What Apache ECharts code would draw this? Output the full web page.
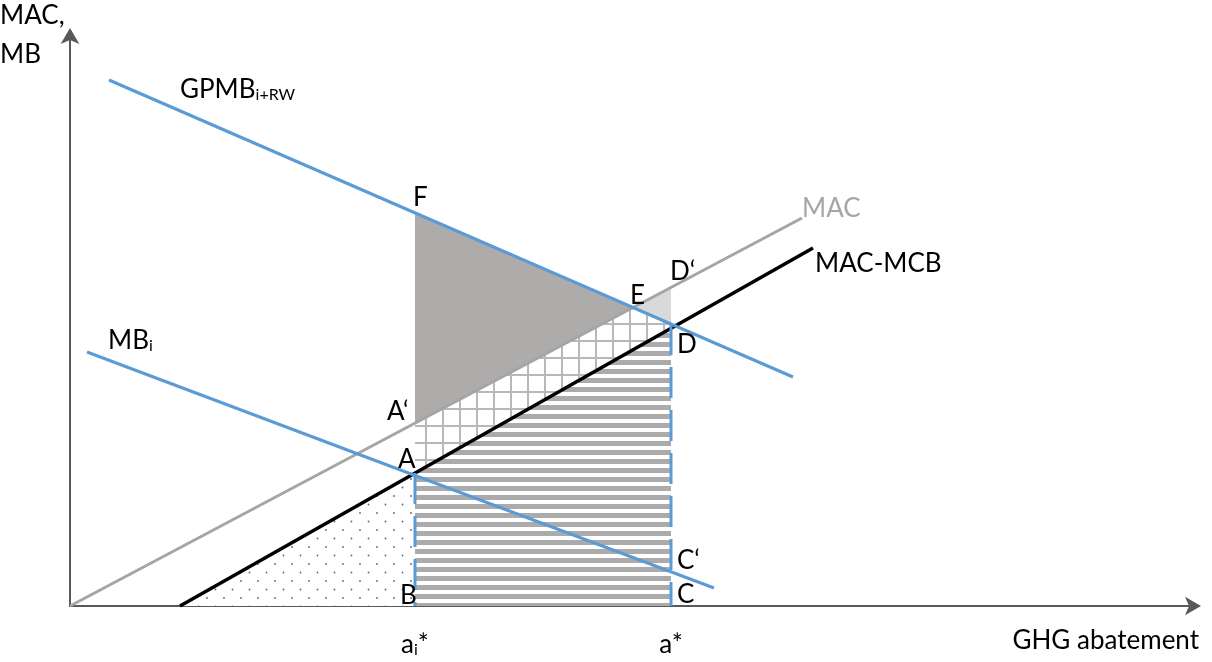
<!DOCTYPE html>
<html>
<head>
<meta charset="utf-8">
<script src="https://cdn.jsdelivr.net/npm/echarts@6/dist/echarts.min.js"></script>
<style>
html, body { margin: 0; padding: 0; background: #fff; }
#main { width: 1212px; height: 662px; }
</style>
</head>
<body>
<div id="main"></div>
<script>
// curve end points [x, y] in chart units
var gpmbLine = [[3.9, 52.6], [72.3, 22.9]];
var macLine = [[0, 0], [73.2, 38.8]];
var mcbLine = [[11.0, 0], [74.3, 35.8]];
var mbLine = [[1.7, 25.4], [64.4, 1.8]];
// abatement levels
var aiStar = 34.5;
var aStar = 60.1;
// point / curve labels: text, x, y
var labelText = ['F', 'E', 'D\u2018', 'D', 'A\u2018', 'A', 'C\u2018', 'B', 'C', 'MAC', 'MAC-MCB', '{m|GPMB}{s|i+RW}', '{m|MB}{s|i}'];
var labelX = [34.3, 56.0, 60.0, 60.7, 31.7, 32.8, 60.7, 33.0, 60.7, 73.2, 74.5, 11.0, 3.8];
var labelY = [40.8, 31.0, 33.4, 26.1, 19.4, 14.6, 4.5, 1.0, 1.1, 39.7, 34.2, 51.6, 26.5];
var tickText = ['{m|a}{s|i}{m|*}', '{m|a*}'];
var tickX = [aiStar, aStar];

var FONT = 'Lato, "Open Sans", sans-serif';
var FS = 26;
var BLUE = '#5B9BD5';

function yAt(l, x) {
    var s = (l[1][1] - l[0][1]) / (l[1][0] - l[0][0]);
    return l[0][1] + s * (x - l[0][0]);
}
function cross(l1, l2) {
    var s1 = (l1[1][1] - l1[0][1]) / (l1[1][0] - l1[0][0]);
    var s2 = (l2[1][1] - l2[0][1]) / (l2[1][0] - l2[0][0]);
    var b1 = l1[0][1] - s1 * l1[0][0];
    var b2 = l2[0][1] - s2 * l2[0][0];
    var x = (b2 - b1) / (s1 - s2);
    return [x, s1 * x + b1];
}
function makePattern(w, h, draw) {
    var c = document.createElement('canvas');
    c.width = w;
    c.height = h;
    var g = c.getContext('2d');
    draw(g);
    return {image: c, repeat: 'repeat'};
}

var stripes = makePattern(4, 9, function (g) {
    g.fillStyle = '#fff';
    g.fillRect(0, 0, 4, 9);
    g.fillStyle = '#ABABAB';
    g.fillRect(0, 0, 4, 5);
});
var hatch = makePattern(17, 17, function (g) {
    g.fillStyle = '#fff';
    g.fillRect(0, 0, 17, 17);
    g.fillStyle = '#B8B8B8';
    g.fillRect(0, 0, 2, 17);
    g.fillRect(0, 0, 17, 2);
});
var dots = makePattern(17, 17, function (g) {
    g.fillStyle = '#fff';
    g.fillRect(0, 0, 17, 17);
    g.fillStyle = '#666';
    g.beginPath();
    g.arc(3, 3, 0.9, 0, Math.PI * 2);
    g.arc(11.5, 11.5, 0.9, 0, Math.PI * 2);
    g.fill();
});

var E = cross(gpmbLine, macLine);
var regions = [
    {fill: '#AEABAB', pts: [[aiStar, yAt(gpmbLine, aiStar)], E, [aiStar, yAt(macLine, aiStar)]]},
    {fill: '#D9D9D9', pts: [E, [aStar, yAt(macLine, aStar)], [aStar, yAt(gpmbLine, aStar)]]},
    {fill: hatch, pts: [[aiStar, yAt(macLine, aiStar)], E, [aStar, yAt(gpmbLine, aStar)], [aStar, yAt(mcbLine, aStar)], [aiStar, yAt(mcbLine, aiStar)]]},
    {fill: stripes, pts: [[aiStar, yAt(mcbLine, aiStar)], [aStar, yAt(mcbLine, aStar)], [aStar, 0], [aiStar, 0]]},
    {fill: dots, pts: [[mcbLine[0][0], 0], [aiStar, yAt(mcbLine, aiStar)], [aiStar, 0]]}
];

var rich = {
    m: {fontSize: FS, fontFamily: FONT, color: '#000'},
    s: {fontSize: 16, fontFamily: FONT, color: '#000', lineHeight: 12, verticalAlign: 'bottom'}
};

function lineSeries(data, color, width, dash) {
    return {
        type: 'line', data: data, symbol: 'none', silent: true, z: 3,
        lineStyle: {color: color, width: width, type: dash || 'solid', cap: 'butt'}
    };
}

var chart = echarts.init(document.getElementById('main'));
chart.setOption({
    animation: false,
    backgroundColor: '#fff',
    grid: {left: 70, right: 17, top: 35, bottom: 56},
    xAxis: {
        type: 'value', min: 0, max: 112.5,
        axisLine: {lineStyle: {color: '#595959', width: 2}, symbol: ['none', 'arrow'], symbolSize: [14, 16], symbolOffset: [0, 6]},
        axisTick: {show: false}, axisLabel: {show: false}, splitLine: {show: false}
    },
    yAxis: {
        type: 'value', min: 0, max: 57.1,
        axisLine: {lineStyle: {color: '#595959', width: 2}, symbol: ['none', 'arrow'], symbolSize: [14, 16], symbolOffset: [0, 7]},
        axisTick: {show: false}, axisLabel: {show: false}, splitLine: {show: false}
    },
    graphic: [
        {type: 'text', left: 0, top: 3, style: {text: 'MAC,', font: FS + 'px ' + FONT, fill: '#000'}},
        {type: 'text', left: 0, top: 42, style: {text: 'MB', font: FS + 'px ' + FONT, fill: '#000'}},
        {type: 'text', right: 13, top: 628, style: {text: 'GHG abatement', font: FS + 'px ' + FONT, fill: '#000'}}
    ],
    series: [
        {
            type: 'custom', silent: true, z: 1,
            data: regions.map(function (r, i) { return [i, 0]; }),
            renderItem: function (params, api) {
                var r = regions[params.dataIndex];
                return {
                    type: 'polygon',
                    shape: {points: r.pts.map(function (p) { return api.coord(p); })},
                    style: {fill: r.fill, stroke: null}
                };
            }
        },
        lineSeries(macLine, '#A5A5A5', 3),
        lineSeries(mcbLine, '#000', 3.5),
        lineSeries(gpmbLine, BLUE, 3),
        lineSeries(mbLine, BLUE, 3),
        lineSeries([[aiStar, yAt(mcbLine, aiStar)], [aiStar, 0]], BLUE, 3, [31, 12]),
        lineSeries([[aStar, yAt(gpmbLine, aStar)], [aStar, 0]], BLUE, 3, [31, 12]),
        {
            type: 'custom', silent: true, z: 5, clip: false,
            data: labelText.map(function (t, i) { return [labelX[i], labelY[i]]; }),
            renderItem: function (params, api) {
                var i = params.dataIndex;
                var p = api.coord([labelX[i], labelY[i]]);
                var isMac = labelText[i] === 'MAC';
                return {
                    type: 'text', x: p[0], y: p[1],
                    style: {
                        text: labelText[i], rich: rich,
                        font: FS + 'px ' + FONT, fill: isMac ? '#A6A6A6' : '#000',
                        align: 'left', verticalAlign: 'middle'
                    }
                };
            }
        },
        {
            type: 'custom', silent: true, z: 5, clip: false,
            data: tickX.map(function (x) { return [x, 0]; }),
            renderItem: function (params, api) {
                var p = api.coord([tickX[params.dataIndex], 0]);
                return {
                    type: 'text', x: p[0], y: p[1] + 39,
                    style: {text: tickText[params.dataIndex], rich: rich, align: 'center', verticalAlign: 'middle'}
                };
            }
        }
    ]
});
</script>
</body>
</html>
